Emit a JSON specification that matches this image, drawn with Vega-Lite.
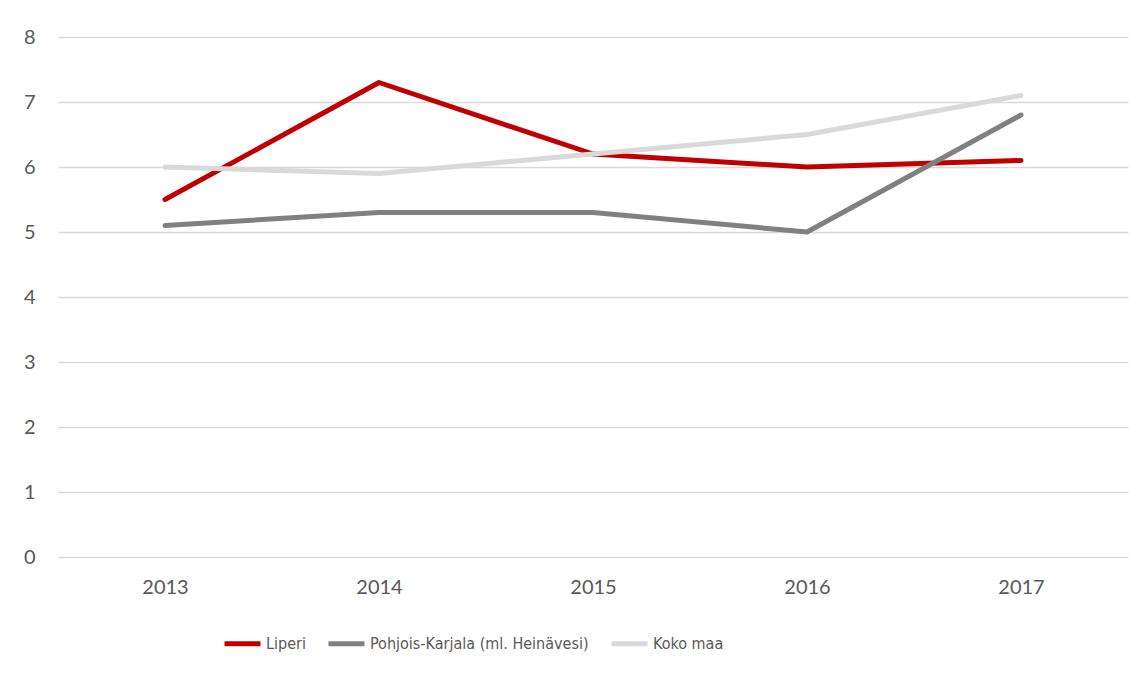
{
  "$schema": "https://vega.github.io/schema/vega-lite/v6.json",
  "width": 1070,
  "height": 520,
  "autosize": {"type": "none"},
  "padding": {"left": 58, "top": 37, "right": 16, "bottom": 118},
  "background": "white",
  "config": {
    "view": {"stroke": null},
    "font": "Lato"
  },
  "data": {
    "values": [
      {"vuosi": "2013", "sarja": "Liperi", "arvo": 5.5},
      {"vuosi": "2014", "sarja": "Liperi", "arvo": 7.3},
      {"vuosi": "2015", "sarja": "Liperi", "arvo": 6.2},
      {"vuosi": "2016", "sarja": "Liperi", "arvo": 6.0},
      {"vuosi": "2017", "sarja": "Liperi", "arvo": 6.1},
      {"vuosi": "2013", "sarja": "Pohjois-Karjala (ml. Heinävesi)", "arvo": 5.1},
      {"vuosi": "2014", "sarja": "Pohjois-Karjala (ml. Heinävesi)", "arvo": 5.3},
      {"vuosi": "2015", "sarja": "Pohjois-Karjala (ml. Heinävesi)", "arvo": 5.3},
      {"vuosi": "2016", "sarja": "Pohjois-Karjala (ml. Heinävesi)", "arvo": 5.0},
      {"vuosi": "2017", "sarja": "Pohjois-Karjala (ml. Heinävesi)", "arvo": 6.8},
      {"vuosi": "2013", "sarja": "Koko maa", "arvo": 6.0},
      {"vuosi": "2014", "sarja": "Koko maa", "arvo": 5.9},
      {"vuosi": "2015", "sarja": "Koko maa", "arvo": 6.2},
      {"vuosi": "2016", "sarja": "Koko maa", "arvo": 6.5},
      {"vuosi": "2017", "sarja": "Koko maa", "arvo": 7.1}
    ]
  },
  "mark": {"type": "line", "strokeWidth": 5, "strokeCap": "round", "strokeJoin": "round"},
  "encoding": {
    "x": {
      "field": "vuosi",
      "type": "ordinal",
      "scale": {"type": "point", "padding": 0.5},
      "axis": {
        "title": null,
        "labelAngle": 0,
        "domain": false,
        "ticks": false,
        "labelFontSize": 20,
        "labelColor": "#595959",
        "labelPadding": 20
      }
    },
    "y": {
      "field": "arvo",
      "type": "quantitative",
      "scale": {"domain": [0, 8]},
      "axis": {
        "title": null,
        "values": [0, 1, 2, 3, 4, 5, 6, 7, 8],
        "domain": false,
        "ticks": false,
        "labelFontSize": 20,
        "labelColor": "#595959",
        "labelPadding": 23,
        "gridColor": "#D9D9D9",
        "gridWidth": 1.5
      }
    },
    "color": {
      "field": "sarja",
      "type": "nominal",
      "sort": ["Liperi", "Pohjois-Karjala (ml. Heinävesi)", "Koko maa"],
      "scale": {
        "domain": ["Liperi", "Pohjois-Karjala (ml. Heinävesi)", "Koko maa"],
        "range": ["#C00000", "#808080", "#D9D9D9"]
      },
      "legend": {
        "title": null,
        "orient": "none",
        "direction": "horizontal",
        "legendX": 164,
        "legendY": 586,
        "symbolType": "stroke",
        "symbolSize": 1296,
        "symbolStrokeWidth": 5,
        "labelFont": "Liberation Sans Narrow, DejaVu Sans Condensed, Lato",
        "labelFontSize": 16,
        "labelLimit": 0,
        "labelColor": "#595959",
        "labelOffset": 3,
        "columnPadding": 12
      }
    }
  }
}
